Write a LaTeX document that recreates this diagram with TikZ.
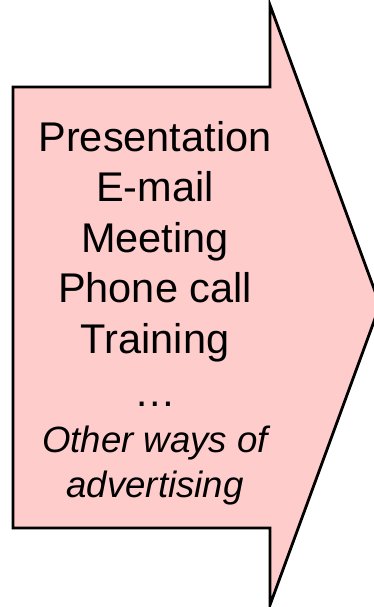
\documentclass[tikz,border=0pt]{standalone}
\usepackage{fontspec}
\setmainfont{Liberation Sans}
\definecolor{lightpink}{HTML}{FFCCCC}
\tikzset{
  item/.style={anchor=base, inner sep=0pt, font=\fontsize{41.5}{50}\selectfont},
  itemit/.style={anchor=base, inner sep=0pt, font=\fontsize{36.6}{44}\selectfont\itshape}
}

\begin{document}
\begin{tikzpicture}[x=1pt,y=-1pt]
\useasboundingbox (0,0) rectangle (374,607);
\clip (0,0) rectangle (374,607);
\draw[fill=lightpink, line width=2.8pt, line join=miter] (13,87) -- (270,87) -- (270,5) -- (380,305) -- (270,605) -- (270,528) -- (13,528) -- cycle;
\node[item] (presentation) at (155,151) {Presentation};
\node[item] (email) at (155,201.5) {E-mail};
\node[item] (meeting) at (155,252) {Meeting};
\node[item] (phone) at (155,302.5) {Phone call};
\node[item] (training) at (155,353.5) {Training};
\node[item] (dots) at (155,406) {…};
\node[itemit] (other) at (155,452) {Other ways of};
\node[itemit] (advert) at (155,497) {advertising};
\end{tikzpicture}
\end{document}
